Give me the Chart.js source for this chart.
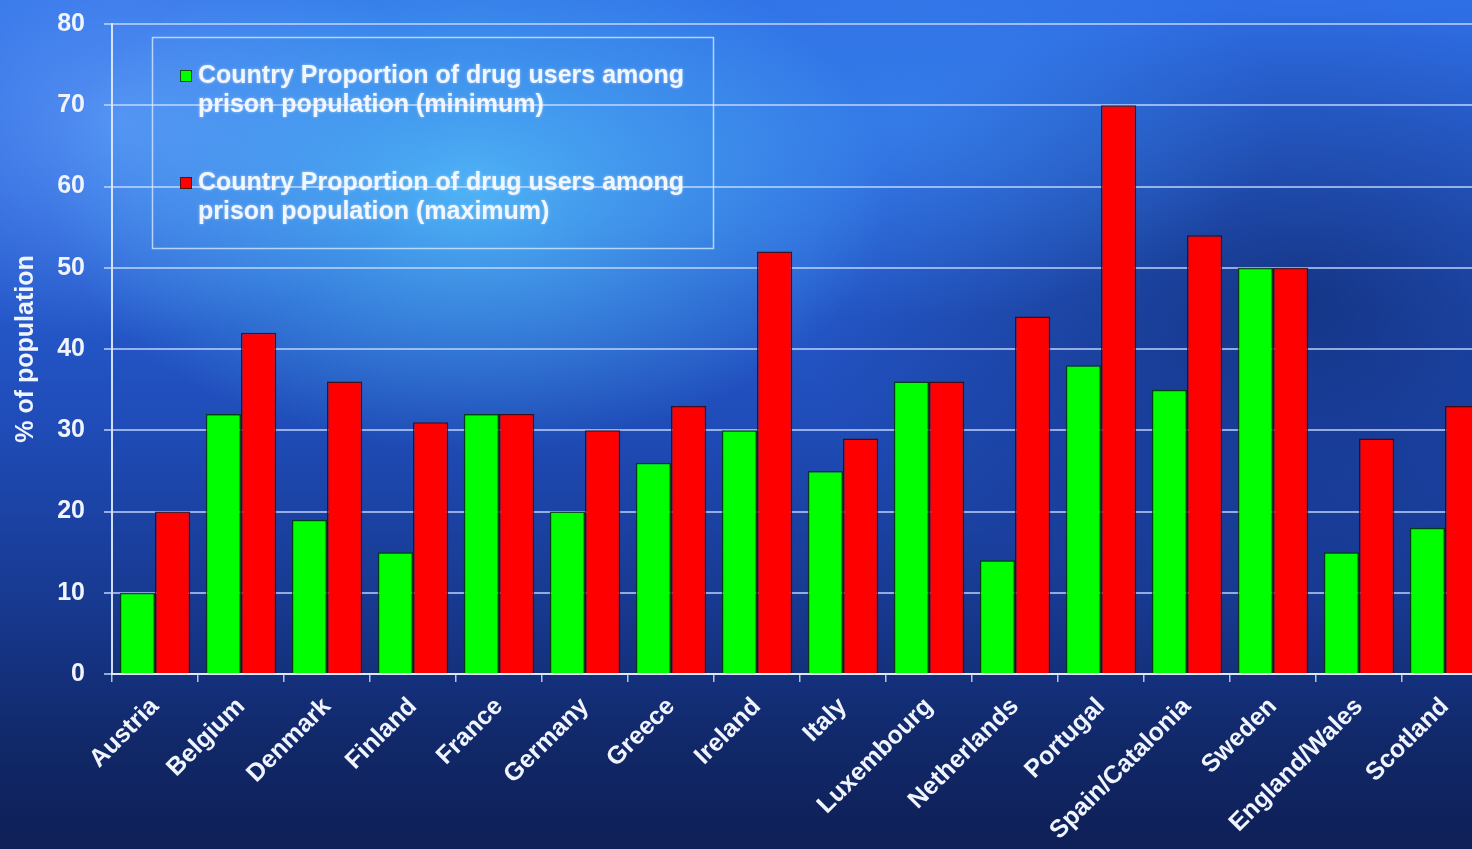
<!DOCTYPE html>
<html>
<head>
<meta charset="utf-8">
<script src="https://cdn.jsdelivr.net/npm/chart.js@4.4.0/dist/chart.umd.min.js"></script>
<style>
  html, body {
    margin: 0;
    padding: 0;
    width: 1472px;
    height: 849px;
    overflow: hidden;
  }
  body {
    background:
      radial-gradient(ellipse 420px 260px at 470px 190px, rgba(90, 205, 255, 0.75), rgba(90, 205, 255, 0) 100%),
      radial-gradient(ellipse 300px 220px at 120px 120px, rgba(110, 170, 255, 0.6), rgba(110, 170, 255, 0) 100%),
      radial-gradient(ellipse 380px 200px at 900px 120px, rgba(60, 140, 240, 0.55), rgba(60, 140, 240, 0) 100%),
      radial-gradient(ellipse 500px 300px at 1300px 300px, rgba(10, 30, 90, 0.6), rgba(10, 30, 90, 0) 100%),
      linear-gradient(180deg, #2f6fe6 0%, #2a62d8 25%, #1f4cb8 50%, #17388e 72%, #112868 88%, #0e1f56 100%);
  }
  #wrap {
    position: absolute;
    left: 0;
    top: -10px;
    width: 1490px;
    height: 859px;
  }
</style>
</head>
<body>
<div id="wrap"><canvas id="chart-drugs"></canvas></div>
<script>
const countries = ["Austria", "Belgium", "Denmark", "Finland", "France", "Germany", "Greece", "Ireland",
  "Italy", "Luxembourg", "Netherlands", "Portugal", "Spain/Catalonia", "Sweden", "England/Wales", "Scotland"];
const minValues = [10, 32, 19, 15, 32, 20, 26, 30, 25, 36, 14, 38, 35, 50, 15, 18];
const maxValues = [20, 42, 36, 31, 32, 30, 33, 52, 29, 36, 44, 70, 54, 50, 29, 33];
const yTicks = [0, 10, 20, 30, 40, 50, 60, 70, 80];
const legendLines = [
  ["Country Proportion of drug users among", "prison population (minimum)"],
  ["Country Proportion of drug users among", "prison population (maximum)"],
];

const fontFamily = "'Liberation Sans', Arial, sans-serif";
const shiftY = 10; // canvas sits 10px above the page top

// legend drawn in a box, like the original slide
const boxLegend = {
  id: "boxLegend",
  afterDraw(chart) {
    const ctx = chart.ctx;
    ctx.save();
    ctx.translate(0, shiftY);
    ctx.strokeStyle = "rgba(220, 240, 255, 0.75)";
    ctx.lineWidth = 1.5;
    ctx.strokeRect(152.5, 37.5, 561, 211);
    ctx.font = "bold 25px " + fontFamily;
    ctx.textBaseline = "middle";
    ctx.shadowColor = "rgba(255, 255, 255, 0.5)";
    const tops = [76, 183];
    chart.data.datasets.forEach((ds, i) => {
      const y = tops[i];
      ctx.shadowBlur = 0;
      ctx.fillStyle = ds.backgroundColor;
      ctx.fillRect(180, y - 6, 12, 12);
      ctx.strokeStyle = "rgba(30, 30, 30, 0.8)";
      ctx.lineWidth = 1;
      ctx.strokeRect(180.5, y - 5.5, 11, 11);
      ctx.shadowBlur = 3;
      ctx.fillStyle = "#f2f6ff";
      legendLines[i].forEach((line, j) => {
        ctx.fillText(line, 198, y + j * 29);
      });
    });
    ctx.restore();
  },
};

const dataChartDrugs = {
  labels: countries,
  datasets: [
    {
      label: "Country Proportion of drug users among prison population (minimum)",
      data: minValues,
      backgroundColor: "#00ff00",
      borderColor: "rgba(0, 60, 0, 0.85)",
      borderWidth: 1.5,
      borderSkipped: "bottom",
      categoryPercentage: 0.82,
      barPercentage: 1.0,
    },
    {
      label: "Country Proportion of drug users among prison population (maximum)",
      data: maxValues,
      backgroundColor: "#ff0000",
      borderColor: "rgba(70, 0, 0, 0.85)",
      borderWidth: 1.5,
      borderSkipped: "bottom",
      categoryPercentage: 0.82,
      barPercentage: 1.0,
    },
  ],
};

const configDrugs = {
  type: "bar",
  data: dataChartDrugs,
  plugins: [boxLegend],
  options: {
    responsive: false,
    animation: false,
    devicePixelRatio: 1,
    layout: {
      padding: { top: 8, right: 2, left: 0, bottom: 0 },
    },
    plugins: {
      legend: { display: false },
      tooltip: { enabled: false },
    },
    scales: {
      x: {
        grid: {
          display: true,
          drawOnChartArea: false,
          drawTicks: true,
          tickLength: 8,
          offset: true,
          color: "rgba(220, 235, 255, 0.8)",
          lineWidth: 1.5,
        },
        border: { color: "rgba(230, 240, 255, 0.9)", width: 2 },
        ticks: {
          color: "#f0f4ff",
          font: { family: fontFamily, size: 25, weight: "bold" },
          minRotation: 45,
          maxRotation: 45,
          autoSkip: false,
          padding: 10,
        },
        afterFit(scale) {
          scale.height = 175;
        },
      },
      y: {
        min: 0,
        max: 80,
        afterBuildTicks(scale) {
          scale.ticks = yTicks.map(v => ({ value: v }));
        },
        grid: {
          color: "rgba(200, 220, 255, 0.7)",
          lineWidth: 2,
          tickLength: 8,
        },
        border: { color: "rgba(230, 240, 255, 0.9)", width: 2 },
        ticks: {
          color: "#f0f4ff",
          font: { family: fontFamily, size: 25, weight: "bold" },
          padding: 19,
        },
        title: {
          display: true,
          text: "% of population",
          color: "#f0f4ff",
          font: { family: fontFamily, size: 25, weight: "bold" },
          padding: { top: 11, bottom: 0 },
        },
        afterFit(scale) {
          scale.width = 112;
        },
      },
    },
  },
};

const canvas = document.getElementById("chart-drugs");
canvas.width = 1490;
canvas.height = 859;
new Chart(canvas, configDrugs);
</script>
</body>
</html>
